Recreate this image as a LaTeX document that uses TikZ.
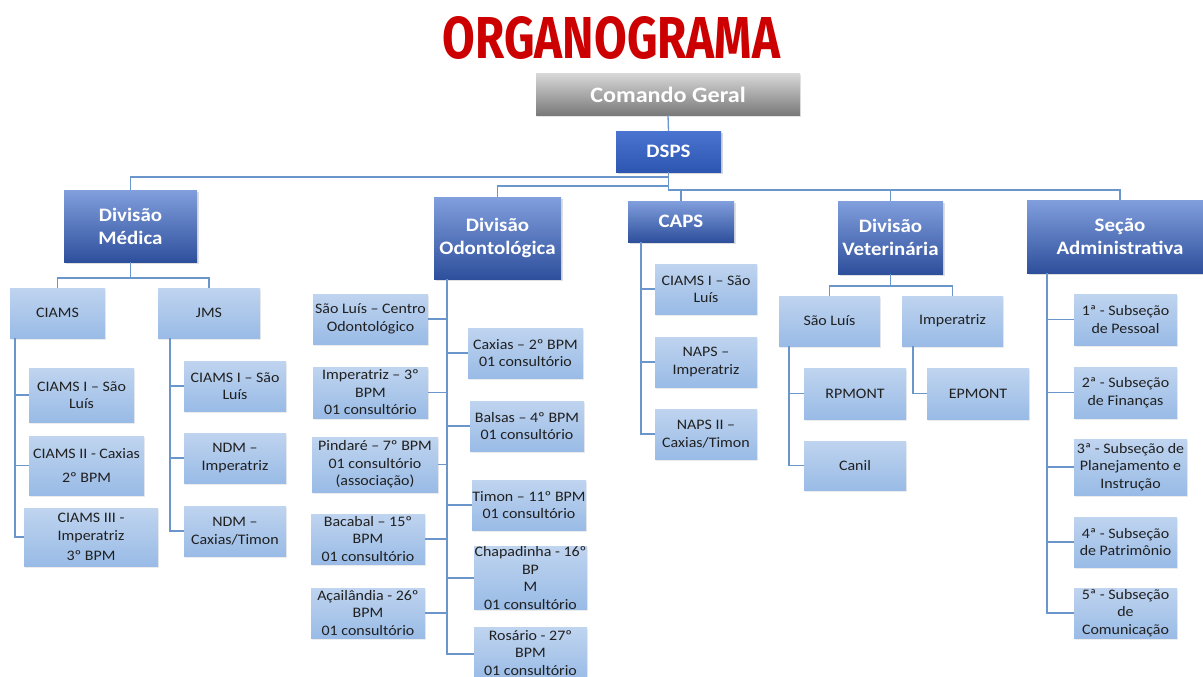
\documentclass[tikz,border=0pt]{standalone}
\usepackage{fontspec}
\setmainfont{Carlito}[FakeStretch=1.1]
\newfontfamily\titlefont{Fira Sans}
\usetikzlibrary{shadows}
\definecolor{hdrTop}{HTML}{819FDD}
\definecolor{hdrBot}{HTML}{2E4F9C}
\definecolor{dspsTop}{HTML}{4A74D0}
\definecolor{dspsBot}{HTML}{2C56B0}
\definecolor{cgTop}{HTML}{D6D6D6}
\definecolor{cgBot}{HTML}{7A7A7A}
\definecolor{lbTop}{HTML}{BFD4EF}
\definecolor{lbBot}{HTML}{99BBE6}
\definecolor{lineC}{HTML}{6A96CC}
\definecolor{titleRed}{HTML}{CC0000}
\definecolor{txtDark}{HTML}{202020}
\newcommand\bx[7]{%
  \pgfmathsetmacro\bxw{#4-#2}\pgfmathsetmacro\bxh{#5-#3}%
  \pgfmathsetmacro\bxcx{(#2+#4)/2}\pgfmathsetmacro\bxcy{(#3+#5)/2}%
  \node[#6, minimum width=\bxw pt, minimum height=\bxh pt] (#1) at (\bxcx,\bxcy) {#7};}
\tikzset{
  basebox/.style={inner sep=0pt, outer sep=0pt, align=center},
  hdr/.style={basebox, top color=hdrTop, bottom color=hdrBot, text=white,
    font=\fontsize{19}{23}\selectfont\bfseries,
    drop shadow={shadow xshift=1.5pt, shadow yshift=-2pt, opacity=0.25}},
  dspsbox/.style={basebox, top color=dspsTop, bottom color=dspsBot, text=white,
    font=\fontsize{19}{23}\selectfont\bfseries,
    drop shadow={shadow xshift=1.5pt, shadow yshift=-2pt, opacity=0.3}},
  cgbox/.style={basebox, top color=cgTop, bottom color=cgBot, text=white,
    font=\fontsize{22}{26}\selectfont\bfseries,
    drop shadow={shadow xshift=1pt, shadow yshift=-1.5pt, opacity=0.2}},
  lbox/.style={basebox, top color=lbTop, bottom color=lbBot, text=txtDark,
    font=\fontsize{14.5}{17.5}\selectfont,
    drop shadow={shadow xshift=1pt, shadow yshift=-1.5pt, opacity=0.15}},
  conn/.style={draw=lineC, line width=1.3pt}
}
\begin{document}
\begin{tikzpicture}[x=1pt,y=-1pt]
\useasboundingbox[fill=white] (0,0) rectangle (1203,677);
% title
\node[text=titleRed, inner sep=0pt] (title) at (611.5,38)
  {\resizebox{337pt}{42pt}{\titlefont\bfseries ORGANOGRAMA}};
% top
\bx{cg}{536}{74}{800}{115}{cgbox}{Comando Geral}
\bx{dsps}{616}{131}{721}{172}{dspsbox}{DSPS}
% level 2
\bx{dm}{64}{190}{197}{262}{hdr}{Divisão\\Médica}
\bx{do}{434}{197}{561}{279}{hdr}{Divisão\\Odontológica}
\bx{caps}{628}{201}{734}{242}{hdr}{CAPS}
\bx{dv}{838}{201}{943}{274}{hdr}{Divisão\\Veterinária}
\bx{sa}{1027}{200}{1213}{273}{hdr}{Seção\\Administrativa}
% Divisao Medica
\bx{ciams}{10}{288}{105}{338}{lbox}{CIAMS}
\bx{jms}{158}{288}{260}{338}{lbox}{JMS}
\bx{m1}{29}{368}{134}{422}{lbox}{CIAMS I – São\\Luís}
\bx{m2}{29}{436}{144}{495}{lbox}{CIAMS II - Caxias\\[6pt]2º BPM}
\bx{m3}{24}{508}{158}{566}{lbox}{CIAMS III -\\Imperatriz\\[3pt]3º BPM}
\bx{j1}{184}{361}{286}{411}{lbox}{CIAMS I – São\\Luís}
\bx{j2}{184}{433}{286}{483}{lbox}{NDM –\\Imperatriz}
\bx{j3}{184}{506}{286}{556}{lbox}{NDM –\\Caxias/Timon}
% Divisao Odontologica
\bx{o1}{313}{294}{428}{344}{lbox}{São Luís – Centro\\Odontológico}
\bx{o2}{313}{367}{428}{418}{lbox}{Imperatriz – 3º\\BPM\\01 consultório}
\bx{o3}{312}{437}{438}{492}{lbox}{Pindaré – 7º BPM\\01 consultório\\(associação)}
\bx{o4}{311}{514}{425}{564}{lbox}{Bacabal – 15º\\BPM\\01 consultório}
\bx{o5}{311}{588}{425}{638}{lbox}{Açailândia - 26º\\BPM\\01 consultório}
\bx{o6}{468}{328}{583}{378}{lbox}{Caxias – 2º BPM\\01 consultório}
\bx{o7}{470}{401}{584}{451}{lbox}{Balsas – 4º BPM\\01 consultório}
\bx{o8}{472}{480}{586}{530}{lbox}{Timon – 11º BPM\\01 consultório}
\bx{o9}{474}{553}{587}{603}{lbox}{Chapadinha - 16º\\BP\\M\\01 consultório}
\bx{o10}{474}{628}{587}{680}{lbox}{\raisebox{4pt}{\begin{tabular}{@{}c@{}}Rosário - 27º\\BPM\\01 consultório\end{tabular}}}
% CAPS
\bx{p1}{655}{264}{757}{314}{lbox}{CIAMS I – São\\Luís}
\bx{p2}{655}{337}{757}{387}{lbox}{NAPS –\\Imperatriz}
\bx{p3}{655}{409}{757}{459}{lbox}{NAPS II –\\Caxias/Timon}
% Veterinaria
\bx{vsl}{779}{296}{880}{346}{lbox}{São Luís}
\bx{vim}{902}{296}{1003}{346}{lbox}{Imperatriz}
\bx{v1}{804}{368}{906}{419}{lbox}{RPMONT}
\bx{v2}{804}{441}{906}{490}{lbox}{Canil}
\bx{v3}{927}{368}{1029}{419}{lbox}{EPMONT}
% Secao Administrativa
\bx{s1}{1074}{294}{1177}{345}{lbox}{1ª - Subseção\\de Pessoal}
\bx{s2}{1074}{367}{1177}{418}{lbox}{2ª - Subseção\\de Finanças}
\bx{s3}{1074}{439}{1187}{495}{lbox}{3ª - Subseção de\\Planejamento e\\Instrução}
\bx{s4}{1074}{517}{1177}{567}{lbox}{4ª - Subseção\\de Patrimônio}
\bx{s5}{1074}{588}{1177}{638}{lbox}{5ª - Subseção\\de\\Comunicação}
% spine coordinates
\coordinate (spC) at (15,338);
\coordinate (spJ) at (170,338);
\coordinate (spO) at (447,279);
\coordinate (spP) at (641,242);
\coordinate (spV) at (789,346);
\coordinate (spI) at (913,346);
\coordinate (spS) at (1047,273);
% connectors
\draw[conn] (cg.south) -- (dsps.north);
\draw[conn] (dsps.south) -- ++(0,5) -| (dm.north);
\draw[conn] (dsps.south) -- ++(0,14) -| (do.north);
\draw[conn] (dsps.south) -- ++(0,18) -| (caps.north);
\draw[conn] (dsps.south) -- ++(0,18) -| (dv.north);
\draw[conn] (dsps.south) -- ++(0,18) -| (sa.north);
\draw[conn] (dm.south) -- ++(0,16) -| (ciams.north);
\draw[conn] (dm.south) -- ++(0,16) -| (jms.north);
\foreach \c in {m1,m2,m3} \draw[conn] (spC) |- (\c.west);
\foreach \c in {j1,j2,j3} \draw[conn] (spJ) |- (\c.west);
\foreach \c in {o1,o2,o3,o4,o5} \draw[conn] (spO) |- (\c.east);
\foreach \c in {o6,o7,o8,o9,o10} \draw[conn] (spO) |- (\c.west);
\foreach \c in {p1,p2,p3} \draw[conn] (spP) |- (\c.west);
\draw[conn] (dv.south) -- ++(0,12) -| (vsl.north);
\draw[conn] (dv.south) -- ++(0,12) -| (vim.north);
\foreach \c in {v1,v2} \draw[conn] (spV) |- (\c.west);
\draw[conn] (spI) |- (v3.west);
\foreach \c in {s1,s2,s3,s4,s5} \draw[conn] (spS) |- (\c.west);
\end{tikzpicture}
\end{document}
